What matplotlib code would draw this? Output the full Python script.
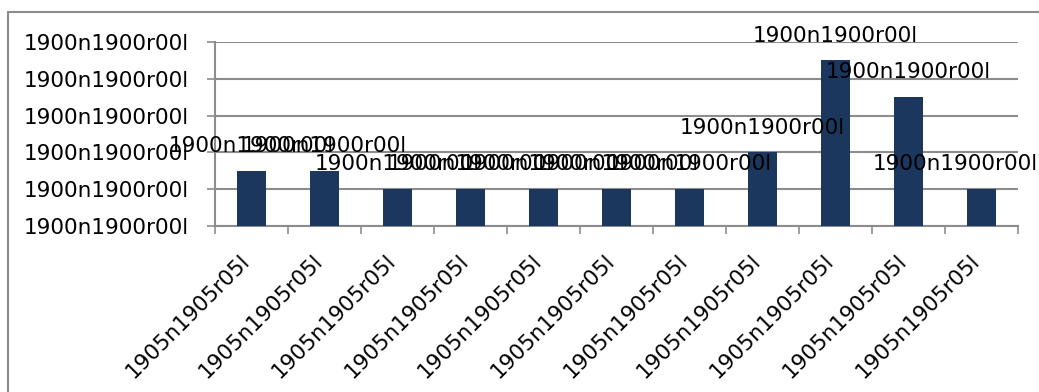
import matplotlib
matplotlib.use("Agg")
import matplotlib.pyplot as plt
import matplotlib.transforms as mtransforms
from matplotlib.patches import Rectangle

# broken Excel number formats, kept as they appear
categories = ["1905n1905r05l"] * 11
values = [1.5, 1.5, 1, 1, 1, 1, 1, 2, 4.5, 3.5, 1]
bar_labels = ["1900n1900r00l"] * 11
y_ticks = [0, 1, 2, 3, 4, 5]
y_ticklabels = ["1900n1900r00l"] * 6

bar_color = "#1b375e"
grid_color = "#8c8c8c"
fs = 15.5

fig = plt.figure(figsize=(10.39, 3.92), dpi=100)
ax = fig.add_axes([215 / 1039, 1 - 226 / 392, (1018 - 215) / 1039, (226 - 42) / 392])

x = list(range(len(values)))
bars = ax.bar(x, values, width=0.4, color=bar_color, zorder=3)

for xi, v, lab in zip(x, values, bar_labels):
    # Excel pulls the last label back inside the chart
    dx = -19 if xi == len(values) - 1 else 0
    ax.annotate(lab, (xi, v), xytext=(dx, 13.5), textcoords="offset points",
                ha="center", va="baseline", fontsize=fs, zorder=4)

ax.set_xlim(-0.5, len(values) - 0.5)
ax.set_ylim(0, 5)
ax.set_yticks(y_ticks)
ax.set_yticklabels(y_ticklabels, fontsize=fs)
ax.yaxis.grid(True, color=grid_color, linewidth=1.5, zorder=0)
ax.tick_params(axis="y", length=5.8, width=1.2, color=grid_color, pad=13)

ax.set_xticks(x)
ax.set_xticklabels(categories, fontsize=fs, rotation=45, ha="right", va="center",
                   rotation_mode="anchor")
ax.set_xticks([i - 0.5 for i in range(len(values) + 1)], minor=True)
ax.tick_params(axis="x", which="major", length=0, pad=23)
ax.tick_params(axis="x", which="minor", length=5.5, width=1.2, color=grid_color)
shift = mtransforms.ScaledTranslation(-5 / 100, 0, fig.dpi_scale_trans)
for t in ax.get_xticklabels():
    t.set_transform(t.get_transform() + shift)

for s in ["top", "right"]:
    ax.spines[s].set_visible(False)
for s in ["left", "bottom"]:
    ax.spines[s].set_color(grid_color)
    ax.spines[s].set_linewidth(1.5)

# chart border, running off the right and bottom edges
fig.patches.append(Rectangle((8 / 1039, -0.1), 1.2, 1.1 - 12 / 392,
                             transform=fig.transFigure, fill=False,
                             edgecolor="#8c8c8c", linewidth=1.5))

fig.savefig("out.png", dpi=100)
